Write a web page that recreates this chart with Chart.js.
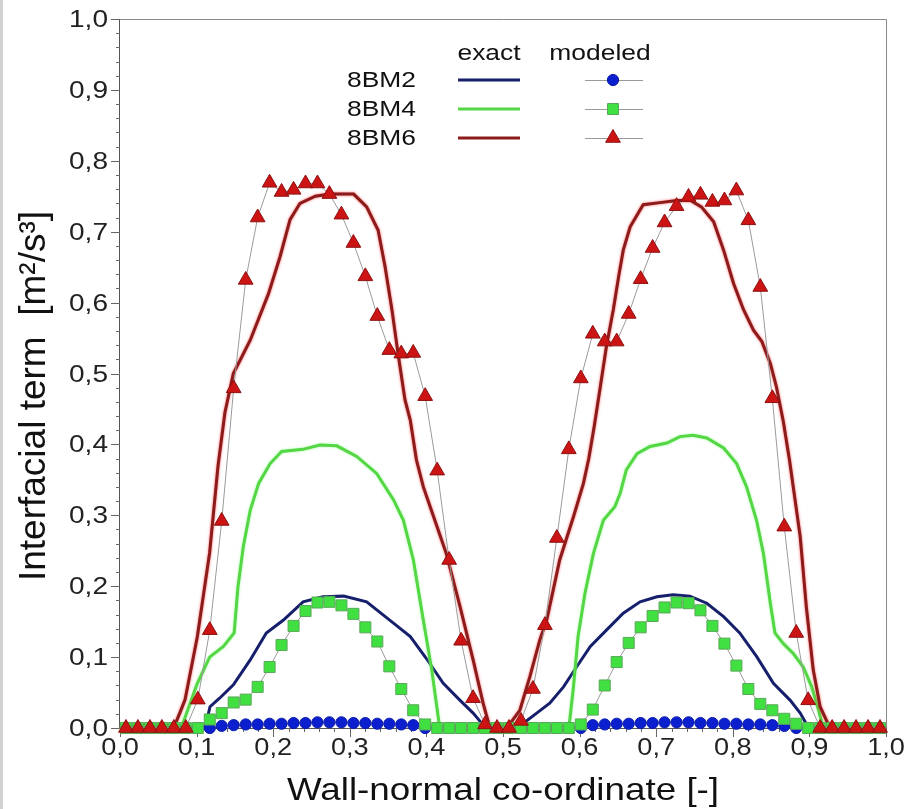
<!DOCTYPE html>
<html>
<head>
<meta charset="utf-8">
<title>Interfacial term</title>
<script src="https://cdn.jsdelivr.net/npm/chart.js@4.4.1/dist/chart.umd.min.js"></script>
<style>
  html, body { margin: 0; padding: 0; background: #fff; }
  canvas { display: block; }
</style>
</head>
<body>
<canvas id="chart" width="909" height="809"></canvas>
<script>
// cell-centred wall-normal positions (64 cells)
const modelX = [
  0.0078, 0.0234, 0.0391, 0.0547, 0.0703, 0.0859, 0.1016, 0.1172,
  0.1328, 0.1484, 0.1641, 0.1797, 0.1953, 0.2109, 0.2266, 0.2422,
  0.2578, 0.2734, 0.2891, 0.3047, 0.3203, 0.3359, 0.3516, 0.3672,
  0.3828, 0.3984, 0.4141, 0.4297, 0.4453, 0.4609, 0.4766, 0.4922,
  0.5078, 0.5234, 0.5391, 0.5547, 0.5703, 0.5859, 0.6016, 0.6172,
  0.6328, 0.6484, 0.6641, 0.6797, 0.6953, 0.7109, 0.7266, 0.7422,
  0.7578, 0.7734, 0.7891, 0.8047, 0.8203, 0.8359, 0.8516, 0.8672,
  0.8828, 0.8984, 0.9141, 0.9297, 0.9453, 0.9609, 0.9766, 0.9922
];

// modeled values
const bm2Model = [
  0, 0, 0, 0, 0, 0, 0, 0,
  0.003, 0.004, 0.005, 0.005, 0.006, 0.006, 0.007, 0.007,
  0.008, 0.008, 0.008, 0.007, 0.007, 0.006, 0.006, 0.005,
  0.004, 0, 0, 0, 0, 0, 0, 0,
  0, 0, 0, 0, 0, 0, 0, 0.004,
  0.005, 0.006, 0.006, 0.007, 0.007, 0.008, 0.008, 0.008,
  0.007, 0.007, 0.006, 0.006, 0.005, 0.005, 0.004, 0.003,
  0, 0, 0, 0, 0, 0, 0, 0
];
const bm4Model = [
  0, 0, 0, 0, 0, 0, 0, 0.012,
  0.021, 0.036, 0.040, 0.058, 0.086, 0.117, 0.144, 0.165,
  0.177, 0.178, 0.173, 0.161, 0.142, 0.122, 0.087, 0.055,
  0.025, 0.005, 0, 0, 0, 0, 0, 0,
  0, 0, 0, 0, 0, 0, 0.005, 0.026,
  0.060, 0.093, 0.120, 0.142, 0.158, 0.170, 0.177, 0.176,
  0.166, 0.144, 0.119, 0.088, 0.055, 0.034, 0.025, 0.013,
  0.006, 0, 0, 0, 0, 0, 0, 0
];
const bm6Model = [
  0, 0, 0, 0, 0, 0, 0.040, 0.138,
  0.292, 0.479, 0.632, 0.720, 0.769, 0.756, 0.759, 0.768,
  0.768, 0.753, 0.724, 0.684, 0.637, 0.581, 0.533, 0.528,
  0.529, 0.468, 0.363, 0.237, 0.123, 0.042, 0.005, 0,
  0, 0.010, 0.055, 0.145, 0.268, 0.393, 0.493, 0.556,
  0.545, 0.545, 0.584, 0.633, 0.677, 0.713, 0.736, 0.749,
  0.752, 0.742, 0.744, 0.758, 0.716, 0.622, 0.465, 0.284,
  0.134, 0.039, 0, 0, 0, 0, 0, 0
];

// exact profiles
const bm2ExactX = [0, 0.111, 0.1175, 0.130, 0.148, 0.170, 0.191, 0.213, 0.239, 0.265, 0.292, 0.322, 0.357, 0.379, 0.400, 0.422, 0.444, 0.461, 0.472, 0.476,
  0.524, 0.527, 0.544, 0.561, 0.579, 0.596, 0.614, 0.635, 0.657, 0.679, 0.701, 0.722, 0.744, 0.766, 0.788, 0.809, 0.831, 0.853, 0.875, 0.888, 0.899, 1];
const bm2ExactY = [0, 0, 0.030, 0.042, 0.061, 0.096, 0.134, 0.152, 0.178, 0.185, 0.186, 0.178, 0.148, 0.129, 0.098, 0.063, 0.039, 0.021, 0.007, 0,
  0, 0.007, 0.021, 0.035, 0.058, 0.086, 0.115, 0.138, 0.162, 0.178, 0.185, 0.188, 0.186, 0.176, 0.157, 0.134, 0.101, 0.063, 0.039, 0.021, 0, 0];

const bm4ExactX = [0, 0.080, 0.087, 0.101, 0.117, 0.135, 0.149, 0.154, 0.161, 0.170, 0.181, 0.196, 0.211, 0.239, 0.261, 0.283, 0.309, 0.335, 0.357, 0.370, 0.383, 0.396, 0.407, 0.416, 0.418,
  0.586, 0.592, 0.598, 0.607, 0.618, 0.631, 0.646, 0.653, 0.661, 0.675, 0.692, 0.714, 0.731, 0.748, 0.766, 0.788, 0.805, 0.818, 0.831, 0.840, 0.849, 0.855, 0.866, 0.879, 0.892, 0.903, 0.912, 0.918, 1];
const bm4ExactY = [0, 0, 0.021, 0.063, 0.100, 0.115, 0.134, 0.199, 0.256, 0.307, 0.345, 0.373, 0.390, 0.393, 0.399, 0.398, 0.383, 0.359, 0.322, 0.293, 0.237, 0.152, 0.082, 0.011, 0,
  0, 0.058, 0.129, 0.190, 0.246, 0.293, 0.312, 0.331, 0.364, 0.387, 0.397, 0.402, 0.411, 0.413, 0.409, 0.395, 0.373, 0.340, 0.293, 0.246, 0.176, 0.134, 0.119, 0.105, 0.086, 0.058, 0.025, 0, 0];

const bm6ExactX = [0, 0.070, 0.078, 0.085, 0.101, 0.117, 0.128, 0.137, 0.148, 0.170, 0.194, 0.209, 0.222, 0.235, 0.255, 0.274, 0.305, 0.322, 0.337, 0.346, 0.355, 0.363, 0.372, 0.379, 0.387, 0.396, 0.411, 0.426, 0.444, 0.461, 0.474, 0.483,
  0.505, 0.522, 0.535, 0.548, 0.557, 0.574, 0.592, 0.605, 0.612, 0.619, 0.627, 0.635, 0.644, 0.651, 0.657, 0.666, 0.683, 0.705, 0.727, 0.745, 0.759, 0.775, 0.788, 0.801, 0.814, 0.827, 0.838, 0.849, 0.857, 0.866, 0.874, 0.888, 0.896, 0.905, 0.914, 0.923, 0.930, 1];
const bm6ExactY = [0, 0, 0.021, 0.040, 0.129, 0.247, 0.370, 0.445, 0.500, 0.547, 0.613, 0.665, 0.717, 0.740, 0.750, 0.753, 0.753, 0.735, 0.702, 0.651, 0.590, 0.528, 0.463, 0.434, 0.378, 0.340, 0.293, 0.246, 0.171, 0.096, 0.035, 0,
  0, 0.025, 0.072, 0.124, 0.152, 0.237, 0.298, 0.345, 0.380, 0.425, 0.481, 0.538, 0.590, 0.637, 0.674, 0.707, 0.738, 0.741, 0.744, 0.744, 0.735, 0.714, 0.674, 0.627, 0.590, 0.561, 0.545, 0.514, 0.481, 0.432, 0.378, 0.270, 0.171, 0.082, 0.030, 0.009, 0, 0];

const seriesNames = ['8BM2', '8BM4', '8BM6'];
const xTicks = [0, 0.1, 0.2, 0.3, 0.4, 0.5, 0.6, 0.7, 0.8, 0.9, 1.0];
const yTicks = [0, 0.1, 0.2, 0.3, 0.4, 0.5, 0.6, 0.7, 0.8, 0.9, 1.0];

const FONT = '"Liberation Sans", Arial, Helvetica, sans-serif';
const exactColors = ['#161f6b', '#55d645', '#8c1c1c'];
const glowColors = [null, 'rgba(140,255,140,0.8)', 'rgba(255,50,50,0.8)'];
const markerStyles = [
  { pointStyle: 'circle', radius: 5.6, fill: '#0c1fcf', stroke: '#0a1aa8' },
  { pointStyle: 'rect', radius: 7.8, fill: '#3fe03f', stroke: '#5aa85a' },
  { pointStyle: 'triangle', radius: 8.5, fill: '#cc1414', stroke: '#8e1010' }
];

const pts = (xs, ys) => xs.map((x, i) => ({ x: x, y: ys[i] }));

const exactData = [pts(bm2ExactX, bm2ExactY), pts(bm4ExactX, bm4ExactY), pts(bm6ExactX, bm6ExactY)];
const modelData = [pts(modelX, bm2Model), pts(modelX, bm4Model), pts(modelX, bm6Model)];

const datasets = [];
// modeled: thin grey line with markers, triangles on top
[2, 1, 0].forEach((k, n) => {
  const m = markerStyles[k];
  datasets.push({
    label: seriesNames[k] + ' modeled',
    data: modelData[k],
    showLine: true,
    borderColor: '#9a9a9a',
    borderWidth: 1,
    pointStyle: m.pointStyle,
    pointRadius: m.radius,
    pointBackgroundColor: m.fill,
    pointBorderColor: m.stroke,
    pointBorderWidth: 1,
    clip: false,
    order: n
  });
});
// exact profiles
[2, 1, 0].forEach((k, n) => {
  datasets.push({
    label: seriesNames[k] + ' exact',
    data: exactData[k],
    showLine: true,
    borderColor: exactColors[k],
    borderWidth: 3,
    pointRadius: 0,
    glow: glowColors[k],
    clip: false,
    order: 3 + n
  });
});

function wideText(ctx, txt, x, y, sx, align) {
  ctx.save();
  ctx.translate(x, y);
  ctx.scale(sx, 1);
  ctx.textAlign = align;
  ctx.fillText(txt, 0, 0);
  ctx.restore();
}

const fmt = v => v.toFixed(1).replace('.', ',');

const axesPlugin = {
  id: 'axesPlugin',
  beforeDatasetsDraw(chart) {
    const ctx = chart.ctx;
    const a = chart.chartArea;
    const xs = chart.scales.x, ys = chart.scales.y;
    ctx.save();
    // picture border on the left
    ctx.fillStyle = '#d2d2d2';
    ctx.fillRect(0, 0, 3, chart.height);

    // frame
    ctx.strokeStyle = '#8a8a8a';
    ctx.lineWidth = 1;
    ctx.beginPath();
    ctx.moveTo(a.left, a.top + 0.5);
    ctx.lineTo(a.right + 0.5, a.top + 0.5);
    ctx.lineTo(a.right + 0.5, a.bottom);
    ctx.stroke();
    ctx.strokeStyle = '#555';
    ctx.beginPath();
    ctx.moveTo(a.left - 0.5, a.top);
    ctx.lineTo(a.left - 0.5, a.bottom + 0.5);
    ctx.lineTo(a.right + 0.5, a.bottom + 0.5);
    ctx.stroke();

    // major and minor ticks
    ctx.strokeStyle = '#666';
    ctx.beginPath();
    for (let i = 0; i <= 50; i++) {
      const v = i / 50;
      const len = i % 5 === 0 ? 9 : 4;
      const px = Math.round(xs.getPixelForValue(v)) + 0.5;
      ctx.moveTo(px, a.bottom);
      ctx.lineTo(px, a.bottom + len);
      const py = Math.round(ys.getPixelForValue(v)) + 0.5;
      ctx.moveTo(a.left, py);
      ctx.lineTo(a.left - len, py);
    }
    ctx.stroke();

    // tick labels
    ctx.fillStyle = '#222';
    ctx.font = '23px ' + FONT;
    ctx.textBaseline = 'alphabetic';
    xTicks.forEach(v => {
      wideText(ctx, fmt(v), xs.getPixelForValue(v), a.bottom + 27, 1.18, 'center');
    });
    yTicks.forEach(v => {
      wideText(ctx, fmt(v), a.left - 12, ys.getPixelForValue(v) + 8, 1.22, 'right');
    });
    ctx.restore();
  },
  beforeDatasetDraw(chart, args) {
    const ds = chart.data.datasets[args.index];
    chart.ctx.save();
    if (ds.glow) {
      chart.ctx.shadowColor = ds.glow;
      chart.ctx.shadowBlur = 2.5;
    }
  },
  afterDatasetDraw(chart) {
    chart.ctx.restore();
  },
  afterDraw(chart) {
    const ctx = chart.ctx;
    const a = chart.chartArea;
    ctx.save();
    ctx.fillStyle = '#111';

    // axis titles
    ctx.font = '32px ' + FONT;
    ctx.textBaseline = 'alphabetic';
    wideText(ctx, 'Wall-normal co-ordinate [-]', (a.left + a.right) / 2, 800, 1.15, 'center');

    ctx.save();
    ctx.translate(45, 396);
    ctx.rotate(-Math.PI / 2);
    ctx.font = '37px ' + FONT;
    ctx.textAlign = 'center';
    ctx.fillText('Interfacial term  [m\u00B2/s\u00B3]', 0, 0);
    ctx.restore();

    // legend table
    ctx.font = '22px ' + FONT;
    ctx.textBaseline = 'middle';
    ctx.fillStyle = '#111';
    wideText(ctx, 'exact', 489, 54, 1.2, 'center');
    wideText(ctx, 'modeled', 600, 54, 1.2, 'center');
    const rows = [80, 109, 138];
    seriesNames.forEach((name, k) => {
      const y = rows[k];
      ctx.fillStyle = '#111';
      wideText(ctx, name, 347, y + 1, 1.2, 'left');
      ctx.lineWidth = 3;
      ctx.strokeStyle = exactColors[k];
      ctx.beginPath();
      ctx.moveTo(458, y);
      ctx.lineTo(520, y);
      ctx.stroke();
      ctx.lineWidth = 1;
      ctx.strokeStyle = '#9a9a9a';
      ctx.beginPath();
      ctx.moveTo(585, y + 0.5);
      ctx.lineTo(643, y + 0.5);
      ctx.stroke();
      const m = markerStyles[k];
      ctx.fillStyle = m.fill;
      ctx.strokeStyle = m.stroke;
      Chart.helpers.drawPoint(ctx, { pointStyle: m.pointStyle, radius: m.radius, borderWidth: 1, rotation: 0 }, 613, y);
    });
    ctx.restore();
  }
};

new Chart(document.getElementById('chart').getContext('2d'), {
  type: 'scatter',
  data: { datasets: datasets },
  options: {
    responsive: false,
    animation: false,
    devicePixelRatio: 1,
    layout: { padding: { top: 19, right: 23, left: 0, bottom: 0 } },
    plugins: {
      legend: { display: false },
      tooltip: { enabled: false }
    },
    scales: {
      x: {
        type: 'linear', min: 0, max: 1,
        ticks: { display: false },
        grid: { display: false, drawTicks: false },
        border: { display: false },
        afterFit: s => { s.height = 81; }
      },
      y: {
        type: 'linear', min: 0, max: 1,
        ticks: { display: false },
        grid: { display: false, drawTicks: false },
        border: { display: false },
        afterFit: s => { s.width = 120; }
      }
    }
  },
  plugins: [axesPlugin]
});
</script>
</body>
</html>
